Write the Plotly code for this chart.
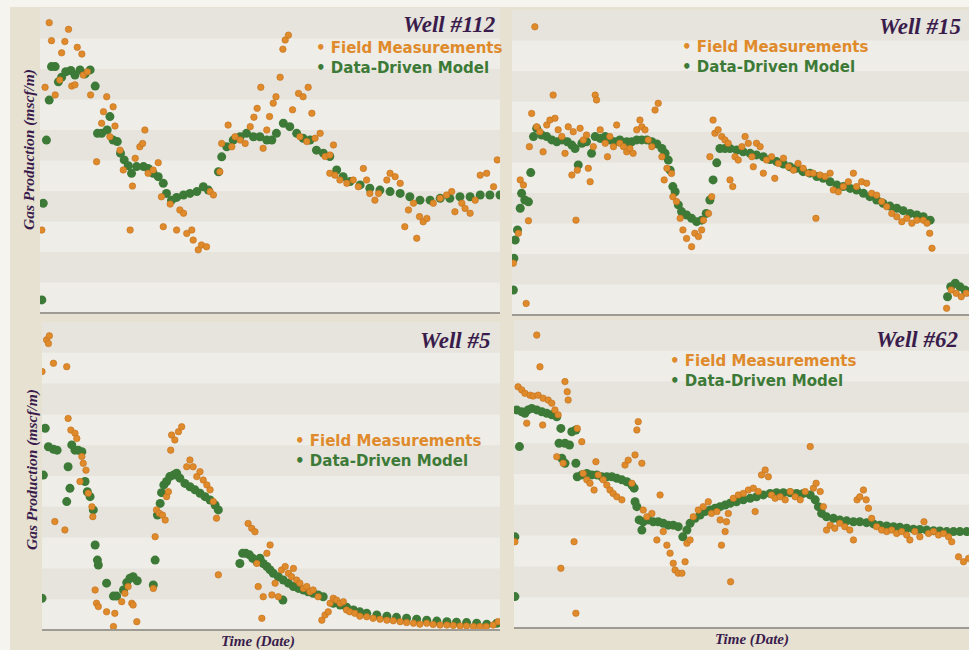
import plotly.graph_objects as go

# ---------------- data (normalised time 0-100, normalised rate 0-100) ----------------
well112_model_t = [0.4, 0.7, 1.4, 2.0, 2.5, 3.3, 4.0, 4.7, 5.6, 6.7,
                   7.6, 8.7, 9.8, 10.9, 12.0, 12.5, 13.4, 14.6, 15.2, 15.9,
                   16.8, 17.5, 18.3, 19.2, 19.9, 21.0, 22.5, 23.5, 24.6, 25.7,
                   26.8, 27.5, 28.6, 29.7, 31.2, 32.6, 34.1, 35.5, 36.6, 38.8,
                   39.5, 40.6, 42.0, 43.5, 44.9, 46.4, 47.8, 49.3, 50.4, 51.4,
                   52.9, 54.3, 55.8, 57.2, 58.7, 60.1, 61.6, 63.0, 64.5, 65.9,
                   67.4, 69.6, 71.7, 73.9, 76.1, 78.3, 80.4, 82.6, 84.8, 87.0,
                   89.1, 91.3, 93.5, 95.7, 97.8, 100.0]
well112_model_q = [4.3, 36.0, 56.7, 69.8, 80.8, 80.8, 75.8, 77.3, 79.1, 79.5,
                   78.0, 79.7, 78.4, 79.7, 74.4, 58.9, 58.9, 60.0, 64.4, 56.7,
                   56.2, 52.4, 50.2, 48.3, 45.8, 48.0, 48.0, 47.4, 45.8, 44.7,
                   42.5, 39.2, 37.0, 37.9, 38.7, 39.2, 39.8, 41.4, 40.3, 46.3,
                   51.2, 54.5, 56.7, 57.8, 58.9, 57.8, 57.8, 56.7, 56.7, 58.9,
                   62.2, 61.1, 58.9, 57.3, 56.7, 53.4, 52.4, 51.3, 46.9, 44.7,
                   43.1, 42.0, 40.9, 40.3, 39.8, 39.2, 38.1, 37.0, 37.0, 37.6,
                   37.6, 38.1, 38.1, 38.7, 38.7, 38.7]
well112_field_t = [0.4, 1.1, 2.0, 2.5, 3.3, 4.3, 4.7, 5.4, 6.2, 6.9,
                   7.6, 8.1, 9.1, 9.4, 10.3, 11.0, 12.3, 13.4, 13.8, 14.5,
                   15.2, 15.9, 16.3, 17.4, 18.1, 19.6, 20.1, 20.7, 21.7, 22.3,
                   22.8, 23.5, 24.6, 25.7, 26.4, 26.8, 28.3, 29.7, 30.4, 31.2,
                   31.9, 33.0, 33.3, 34.4, 35.1, 36.2, 37.0, 37.7, 39.1, 39.5,
                   40.9, 41.7, 42.4, 43.5, 44.6, 45.7, 46.5, 47.2, 48.0, 48.5,
                   49.3, 49.9, 50.7, 51.3, 52.2, 52.8, 53.3, 54.0, 54.9, 56.2,
                   56.5, 57.2, 58.0, 58.3, 59.1, 59.8, 60.9, 62.0, 63.0, 63.0,
                   63.8, 64.1, 65.2, 66.7, 68.1, 69.2, 70.3, 71.0, 71.7, 72.8,
                   73.6, 75.4, 76.1, 77.2, 78.3, 79.3, 80.1, 81.2, 81.9, 82.5,
                   83.3, 84.1, 85.5, 87.0, 88.4, 89.5, 90.2, 91.7, 92.4, 93.5,
                   94.6, 95.7, 97.1, 98.6, 99.4]
well112_field_q = [27.2, 74.0, 95.2, 89.3, 71.5, 76.4, 85.3, 89.0, 93.0, 74.4,
                   74.8, 87.1, 84.9, 78.0, 79.1, 71.5, 49.6, 62.2, 66.0, 70.9,
                   57.8, 67.6, 61.3, 53.4, 46.9, 27.2, 41.6, 50.7, 54.5, 55.6,
                   60.0, 45.8, 46.9, 49.3, 38.1, 28.3, 35.7, 27.2, 33.8, 32.7,
                   26.1, 27.2, 23.9, 20.7, 22.3, 21.7, 39.8, 38.7, 46.3, 55.6,
                   61.6, 54.5, 57.8, 56.7, 55.6, 61.1, 64.2, 67.1, 74.0, 54.0,
                   60.0, 64.4, 68.8, 70.9, 77.3, 86.5, 89.5, 91.1, 66.6, 72.0,
                   57.8, 70.9, 56.2, 74.0, 65.5, 57.3, 58.9, 51.3, 51.8, 45.8,
                   55.1, 45.2, 43.6, 42.5, 43.6, 41.4, 47.4, 43.6, 39.2, 37.0,
                   39.2, 43.6, 45.8, 44.7, 42.5, 28.3, 33.8, 36.0, 24.5, 31.6,
                   29.9, 31.0, 36.0, 37.6, 38.7, 39.8, 33.2, 36.0, 34.3, 32.7,
                   37.0, 45.2, 45.8, 41.4, 50.2]

well15_model_t = [0.3, 0.4, 0.7, 1.2, 1.8, 2.1, 2.8, 3.6, 4.1, 4.7,
                  5.4, 6.5, 7.6, 8.7, 9.8, 10.9, 12.1, 13.1, 13.8, 14.5,
                  15.3, 16.3, 17.4, 18.2, 19.3, 20.4, 21.4, 22.5, 23.6, 25.1,
                  26.2, 27.3, 28.4, 29.5, 30.6, 31.7, 32.8, 33.5, 34.2, 34.6,
                  35.2, 35.7, 36.4, 37.1, 38.2, 39.3, 40.4, 41.5, 42.5, 43.3,
                  44.0, 44.8, 45.5, 46.6, 47.7, 49.2, 50.6, 52.1, 53.5, 55.0,
                  56.5, 57.9, 59.4, 60.8, 62.3, 63.7, 65.2, 66.7, 68.1, 69.6,
                  71.1, 72.5, 74.0, 75.4, 76.9, 78.3, 79.8, 81.2, 82.7, 84.2,
                  85.6, 87.1, 88.6, 90.0, 91.5, 95.3, 96.0, 97.0, 98.0, 99.1,
                  100.0]
well15_model_q = [8.2, 18.6, 24.6, 27.9, 35.0, 39.9, 37.7, 37.1, 46.7, 58.5,
                  61.2, 59.0, 58.5, 57.4, 56.8, 57.4, 56.8, 55.7, 54.6, 49.2,
                  56.3, 56.8, 53.0, 58.5, 57.9, 58.5, 57.4, 56.8, 57.4, 56.8,
                  56.8, 57.4, 57.4, 57.4, 56.8, 56.1, 54.6, 53.0, 50.8, 47.5,
                  42.1, 40.4, 36.1, 33.9, 32.8, 31.7, 30.6, 31.1, 33.3, 37.7,
                  44.3, 49.9, 54.6, 54.6, 54.6, 54.1, 53.5, 53.0, 52.5, 51.9,
                  51.0, 50.3, 49.5, 48.6, 48.1, 47.0, 46.5, 45.4, 44.8, 43.7,
                  42.6, 42.1, 41.5, 41.0, 39.9, 38.8, 37.7, 36.6, 35.7, 35.0,
                  34.2, 33.3, 32.8, 32.2, 31.1, 6.0, 9.3, 10.4, 9.3, 8.2,
                  7.6]
well15_field_t = [0.3, 1.4, 1.8, 2.5, 3.1, 3.6, 3.8, 4.3, 5.0, 5.4,
                  6.1, 6.8, 7.6, 8.3, 9.0, 9.4, 10.1, 10.9, 11.6, 12.3,
                  13.1, 13.4, 14.0, 14.3, 14.9, 15.6, 16.3, 16.7, 17.1, 17.8,
                  18.2, 18.5, 19.3, 20.4, 20.9, 21.4, 22.2, 22.9, 23.6, 24.4,
                  25.1, 25.8, 26.5, 27.3, 28.0, 28.4, 29.1, 29.8, 30.6, 31.3,
                  32.0, 32.8, 33.3, 33.9, 34.9, 35.2, 36.0, 36.8, 37.4, 38.2,
                  39.3, 40.0, 40.8, 41.5, 41.9, 43.0, 43.3, 43.7, 44.0, 44.4,
                  45.1, 45.9, 46.6, 47.3, 47.7, 48.3, 48.8, 49.5, 50.3, 51.0,
                  51.7, 52.5, 52.8, 53.5, 54.3, 55.0, 55.7, 56.8, 57.5, 58.3,
                  59.4, 60.5, 61.6, 62.6, 63.7, 64.8, 65.9, 66.5, 67.4, 68.5,
                  69.6, 70.3, 71.4, 72.5, 73.6, 74.7, 75.4, 76.5, 77.6, 78.7,
                  79.8, 80.9, 82.0, 83.1, 84.2, 85.3, 86.4, 87.5, 88.6, 90.0,
                  90.8, 91.4, 91.9, 95.1, 96.1, 97.2, 98.3, 99.4]
well15_field_q = [17.0, 26.8, 44.3, 42.6, 3.8, 30.9, 55.2, 66.1, 94.5, 61.7,
                  60.1, 53.5, 62.3, 63.9, 72.1, 64.5, 60.7, 58.5, 53.0, 61.7,
                  45.9, 60.1, 31.1, 47.5, 61.2, 57.4, 59.0, 48.1, 43.7, 55.2,
                  72.1, 70.5, 60.7, 56.3, 51.9, 58.5, 55.2, 62.3, 56.3, 55.2,
                  53.5, 54.6, 53.0, 60.7, 63.9, 61.7, 60.7, 57.4, 55.2, 67.2,
                  69.4, 51.9, 44.3, 48.1, 46.4, 38.8, 37.2, 31.7, 27.9, 25.1,
                  22.4, 26.8, 25.7, 27.9, 31.1, 33.3, 51.9, 38.8, 63.9, 59.6,
                  60.7, 58.5, 57.4, 56.3, 44.3, 42.1, 51.9, 50.8, 55.2, 58.5,
                  56.3, 51.9, 48.6, 56.3, 55.2, 46.5, 50.8, 51.9, 44.8, 49.7,
                  51.4, 48.6, 47.5, 49.7, 48.1, 46.5, 46.5, 31.7, 45.9, 45.4,
                  46.5, 41.0, 40.4, 42.1, 43.7, 46.5, 42.1, 43.7, 43.2, 39.9,
                  39.3, 37.2, 35.5, 33.3, 32.2, 30.6, 31.7, 30.1, 31.1, 31.1,
                  30.1, 26.8, 21.9, 2.2, 8.2, 7.1, 6.0, 7.1]

well5_model_t = [0.0, 0.3, 0.7, 1.4, 2.5, 3.3, 5.4, 5.7, 6.1, 6.5,
                 7.2, 7.9, 8.7, 9.4, 9.9, 10.5, 11.2, 11.6, 12.1, 12.3,
                 14.1, 15.6, 16.3, 17.8, 18.5, 19.2, 19.9, 20.8, 24.3, 24.7,
                 25.2, 25.8, 26.1, 26.6, 27.2, 27.9, 28.7, 29.4, 30.1, 31.2,
                 32.3, 33.4, 34.5, 35.6, 36.7, 37.8, 38.5, 43.2, 43.8, 44.5,
                 45.3, 46.0, 46.9, 47.6, 48.3, 49.1, 49.8, 50.5, 51.6, 52.6,
                 52.7, 53.8, 54.9, 56.0, 57.1, 58.1, 59.2, 60.3, 61.4, 63.6,
                 65.1, 66.5, 68.0, 69.4, 70.9, 73.1, 75.3, 77.4, 79.6, 81.8,
                 84.0, 86.2, 88.4, 90.5, 92.7, 94.9, 97.1, 99.3]
well5_model_q = [10.3, 50.3, 65.5, 59.5, 58.7, 58.4, 41.7, 53.0, 46.0, 60.1,
                 58.4, 58.4, 57.9, 48.2, 44.9, 43.3, 39.0, 27.6, 22.7, 21.1,
                 15.2, 11.0, 11.0, 13.0, 15.4, 16.8, 17.3, 16.0, 14.6, 22.7,
                 37.3, 41.1, 44.6, 47.1, 48.2, 49.8, 50.3, 50.9, 49.3, 47.6,
                 46.5, 45.5, 44.4, 43.3, 42.2, 40.6, 39.0, 21.6, 24.9, 24.9,
                 24.4, 23.3, 22.2, 23.3, 21.6, 20.6, 19.5, 18.4, 17.3, 9.7,
                 16.2, 15.2, 14.1, 13.5, 13.0, 12.4, 11.9, 11.4, 10.8, 8.7,
                 8.1, 7.4, 6.5, 5.9, 5.4, 4.9, 4.5, 4.1, 3.8, 3.5,
                 3.2, 2.9, 2.7, 2.5, 2.4, 2.2, 1.9, 2.2]
well5_field_t = [0.0, 1.0, 1.4, 1.6, 2.5, 2.8, 5.0, 5.4, 5.7, 6.3,
                 7.2, 7.6, 8.3, 8.7, 9.0, 9.6, 10.1, 10.9, 11.1, 11.6,
                 11.9, 12.3, 14.1, 15.6, 15.9, 17.4, 18.1, 18.8, 19.6, 19.9,
                 20.7, 24.3, 24.7, 25.0, 25.6, 26.3, 26.9, 27.2, 27.6, 28.1,
                 28.3, 29.0, 29.8, 30.5, 31.6, 32.3, 33.0, 33.8, 34.5, 35.2,
                 36.0, 36.7, 37.4, 38.1, 38.5, 45.0, 45.8, 46.5, 46.9, 47.2,
                 48.0, 48.3, 49.1, 49.8, 50.2, 50.9, 51.6, 52.3, 53.1, 53.8,
                 54.5, 54.9, 55.6, 56.3, 57.1, 57.8, 58.5, 59.2, 60.3, 61.1,
                 61.8, 62.5, 62.9, 63.6, 64.3, 65.1, 65.8, 66.5, 67.2, 68.3,
                 69.4, 70.9, 72.3, 73.8, 75.3, 76.7, 78.2, 79.6, 81.1, 82.5,
                 84.0, 85.4, 86.9, 88.4, 89.8, 91.3, 92.7, 94.2, 95.6, 97.0,
                 98.5, 99.6]
well5_field_q = [83.9, 94.2, 93.0, 95.5, 86.6, 35.2, 32.5, 85.5, 68.7, 64.9,
                 63.9, 62.2, 48.2, 56.3, 54.1, 51.9, 44.4, 40.0, 36.8, 13.0,
                 8.7, 7.6, 5.9, 1.1, 5.4, 9.2, 11.9, 14.1, 8.7, 8.1,
                 2.7, 13.5, 30.3, 39.0, 37.9, 37.3, 35.7, 43.3, 44.9, 58.4,
                 63.3, 61.7, 64.4, 66.0, 53.0, 55.2, 53.0, 49.8, 51.4, 48.7,
                 47.1, 45.5, 41.7, 36.3, 17.9, 34.6, 33.0, 31.9, 21.6, 14.1,
                 3.8, 10.8, 24.9, 27.6, 11.4, 15.2, 10.8, 19.5, 20.6, 18.4,
                 17.3, 20.0, 16.2, 15.2, 13.5, 14.1, 12.4, 13.0, 10.8, 3.2,
                 4.9, 5.9, 8.7, 10.3, 9.7, 8.7, 9.2, 6.5, 5.9, 5.4,
                 4.5, 4.3, 3.8, 3.5, 3.2, 3.0, 2.7, 2.4, 2.2, 1.9,
                 2.2, 1.8, 1.6, 1.6, 1.5, 1.3, 1.3, 1.1, 1.1, 1.1,
                 1.6, 2.7]

well62_model_t = [0.2, 0.2, 0.6, 1.2, 1.7, 2.4, 3.1, 3.9, 5.0, 6.1,
                  7.2, 8.3, 9.4, 10.3, 9.9, 11.2, 12.2, 12.7, 13.6, 10.5,
                  11.2, 13.6, 13.9, 14.9, 16.0, 17.1, 18.2, 19.3, 20.4, 21.5,
                  22.6, 23.7, 24.8, 25.9, 26.4, 26.6, 27.0, 27.5, 28.1, 28.4,
                  29.5, 30.6, 31.7, 32.8, 33.9, 35.0, 36.1, 37.1, 38.0, 38.7,
                  39.8, 40.9, 42.0, 43.1, 44.2, 45.3, 46.4, 47.5, 48.9, 50.4,
                  51.9, 53.3, 54.8, 56.3, 57.7, 59.2, 60.7, 62.1, 63.6, 65.1,
                  66.2, 66.9, 67.6, 68.7, 70.2, 71.6, 73.1, 74.6, 76.0, 77.5,
                  79.0, 80.4, 81.9, 83.4, 84.8, 86.3, 87.8, 89.2, 90.7, 92.2,
                  93.6, 95.1, 96.6, 98.0, 99.5]
well62_model_q = [10.2, 29.6, 70.8, 58.9, 70.2, 69.7, 70.8, 71.3, 70.8, 70.2,
                  69.7, 69.2, 68.6, 64.8, 60.0, 60.0, 59.4, 63.7, 64.3, 55.1,
                  53.5, 53.5, 49.1, 49.7, 50.2, 49.7, 49.7, 49.1, 49.1, 49.1,
                  48.6, 48.1, 47.5, 46.4, 45.4, 41.0, 39.4, 35.1, 31.8, 34.5,
                  35.1, 34.5, 34.5, 34.0, 33.4, 33.4, 32.9, 29.6, 31.8, 34.0,
                  35.6, 36.7, 37.8, 38.3, 38.9, 39.4, 39.9, 40.5, 41.0, 41.6,
                  42.1, 42.6, 43.2, 43.7, 43.9, 43.9, 43.9, 43.7, 43.7, 43.2,
                  41.6, 39.4, 37.2, 36.1, 35.6, 35.1, 34.8, 34.5, 34.5, 34.2,
                  33.8, 33.4, 33.1, 32.9, 32.7, 32.4, 32.1, 32.0, 31.8, 31.6,
                  31.5, 31.3, 31.3, 31.3, 31.3]
well62_field_t = [0.2, 0.9, 1.7, 2.4, 2.8, 3.5, 4.2, 5.0, 5.3, 5.7,
                  6.3, 6.4, 7.5, 8.3, 9.0, 9.7, 9.4, 10.3, 10.8, 11.2,
                  11.7, 11.9, 13.2, 13.6, 13.9, 14.9, 15.2, 16.0, 16.7, 17.6,
                  18.0, 18.5, 19.6, 20.4, 21.1, 21.8, 22.6, 23.7, 24.4, 25.1,
                  25.9, 26.6, 27.3, 27.0, 28.1, 28.4, 29.2, 30.3, 31.4, 32.1,
                  32.8, 33.6, 34.3, 35.0, 35.4, 36.1, 36.9, 37.6, 38.0, 38.7,
                  39.4, 40.5, 41.6, 42.7, 43.4, 44.6, 45.3, 45.6, 46.4, 46.7,
                  47.1, 47.6, 48.2, 49.3, 50.4, 51.5, 52.6, 53.0, 53.7, 54.4,
                  55.2, 55.9, 56.6, 57.4, 58.5, 59.6, 60.7, 61.8, 62.9, 64.0,
                  65.1, 65.8, 66.4, 67.3, 68.0, 68.7, 69.5, 70.5, 71.6, 72.7,
                  73.8, 74.6, 75.4, 76.0, 76.8, 77.4, 77.9, 78.6, 79.7, 80.8,
                  81.9, 83.0, 84.1, 85.2, 86.3, 87.0, 88.1, 89.2, 90.1, 91.1,
                  92.2, 93.3, 94.4, 95.5, 96.2, 97.7, 98.8, 99.9]
well62_field_q = [28.0, 78.3, 77.3, 76.2, 66.5, 75.6, 75.3, 95.1, 75.6, 84.8,
                  65.9, 74.6, 74.0, 73.0, 70.8, 69.2, 55.6, 19.4, 53.5, 80.0,
                  76.7, 74.0, 28.0, 4.8, 64.8, 60.5, 50.2, 48.1, 47.0, 44.8,
                  54.0, 49.7, 48.1, 46.4, 44.8, 43.7, 42.6, 41.6, 52.9, 54.5,
                  47.0, 56.2, 67.0, 64.3, 53.5, 38.3, 36.1, 37.2, 28.6, 43.2,
                  31.3, 26.9, 24.3, 21.0, 18.8, 17.8, 17.8, 21.5, 27.5, 28.6,
                  36.1, 38.3, 39.4, 41.0, 37.2, 37.8, 35.1, 26.9, 31.3, 34.5,
                  37.2, 15.0, 42.1, 43.2, 43.7, 44.8, 45.4, 37.8, 44.3, 49.7,
                  51.3, 49.1, 43.2, 42.1, 42.6, 41.6, 44.3, 42.6, 41.6, 44.3,
                  58.9, 45.4, 47.0, 44.3, 39.4, 31.8, 33.4, 32.4, 34.0, 32.9,
                  31.8, 28.6, 41.6, 42.6, 44.8, 41.6, 38.9, 35.6, 32.9, 31.8,
                  31.3, 31.8, 30.7, 31.3, 30.2, 28.6, 31.3, 29.6, 34.5, 30.7,
                  31.3, 30.2, 30.7, 29.6, 28.0, 23.1, 21.5, 22.6]

well_names = ["Well #112", "Well #15", "Well #5", "Well #62"]
series_names = ["Field Measurements", "Data-Driven Model"]
y_axis_label = "Gas Production (mscf/m)"
x_axis_label = "Time (Date)"

# ---------------- styling ----------------
W, H = 969, 650
ORANGE = "#df8a2b"
ORANGE_EDGE = "#c2701c"
GREEN = "#3d7a37"
PURPLE = "#3a1c4c"
OUTER = "#e6e1d1"
PANEL = "#eeede8"
BAND = "#e6e4dd"
SERIF = "Liberation Serif, Times New Roman, serif"
SANS = "DejaVu Sans, Arial, sans-serif"


def px(x):
    return x / W


def py(y):
    return 1 - y / H


# panel boxes in pixels: (left, right, top, bottom)
panels = [
    dict(box=(40, 500, 8, 313), title_xy=(497, 24), leg_xy=(314, 48),
         ft=well112_field_t, fq=well112_field_q, mt=well112_model_t, mq=well112_model_q),
    dict(box=(512, 969, 10, 315), title_xy=(963, 26), leg_xy=(680, 47),
         ft=well15_field_t, fq=well15_field_q, mt=well15_model_t, mq=well15_model_q),
    dict(box=(42, 500, 322, 630), title_xy=(492, 340), leg_xy=(293, 441),
         ft=well5_field_t, fq=well5_field_q, mt=well5_model_t, mq=well5_model_q),
    dict(box=(514, 969, 320, 628), title_xy=(960, 339), leg_xy=(668, 361),
         ft=well62_field_t, fq=well62_field_q, mt=well62_model_t, mq=well62_model_q),
]

fig = go.Figure()
layout = dict(
    width=W, height=H, margin=dict(l=0, r=0, t=0, b=0),
    paper_bgcolor=OUTER, plot_bgcolor=PANEL, showlegend=False,
)
shapes = []
annotations = []

# white frame strips at top and left of the picture
shapes.append(dict(type="rect", xref="paper", yref="paper", x0=0, x1=1, y0=py(7), y1=1,
                   fillcolor="#f6f4ef", line_width=0, layer="below"))
shapes.append(dict(type="rect", xref="paper", yref="paper", x0=0, x1=px(10), y0=0, y1=1,
                   fillcolor="#f6f4ef", line_width=0, layer="below"))

N_BANDS = 10
for i, p in enumerate(panels):
    k = "" if i == 0 else str(i + 1)
    xa, ya = "x" + k, "y" + k
    l, r, t, b = p["box"]
    layout["xaxis" + k] = dict(domain=[px(l), px(r)], range=[0, 100], anchor=ya,
                               showgrid=False, zeroline=False, showticklabels=False,
                               ticks="", showline=False, fixedrange=True)
    layout["yaxis" + k] = dict(domain=[py(b), py(t)], range=[0, 100], anchor=xa,
                               showgrid=False, zeroline=False, showticklabels=False,
                               ticks="", showline=False, fixedrange=True)
    # subtle horizontal bands
    for j in range(N_BANDS):
        if j % 2 == 0:
            shapes.append(dict(type="rect", xref=xa + " domain", yref=ya + " domain",
                               x0=0, x1=1, y0=1 - (j + 1) / N_BANDS, y1=1 - j / N_BANDS,
                               fillcolor=BAND, line_width=0, layer="below"))
    # bottom shadow edge
    shapes.append(dict(type="line", xref=xa + " domain", yref=ya + " domain",
                       x0=0, x1=1, y0=0, y1=0, line=dict(color="#9e9b94", width=2),
                       layer="above"))

    fig.add_trace(go.Scatter(x=p["mt"], y=p["mq"], mode="markers", xaxis=xa, yaxis=ya,
                             name=series_names[1], hoverinfo="skip",
                             marker=dict(color=GREEN, size=9, line=dict(width=0))))
    fig.add_trace(go.Scatter(x=p["ft"], y=p["fq"], mode="markers", xaxis=xa, yaxis=ya,
                             name=series_names[0], hoverinfo="skip",
                             marker=dict(color=ORANGE, size=6.5,
                                         line=dict(color=ORANGE_EDGE, width=0.6))))

    tx, ty = p["title_xy"]
    annotations.append(dict(text=well_names[i], xref="paper", yref="paper",
                            x=px(tx), y=py(ty), xanchor="right", yanchor="middle",
                            showarrow=False,
                            font=dict(family=SERIF, size=23, color=PURPLE,
                                      weight="bold", style="italic")))
    lx, ly = p["leg_xy"]
    annotations.append(dict(text="\u2022 " + series_names[0], xref="paper", yref="paper",
                            x=px(lx), y=py(ly), xanchor="left", yanchor="middle",
                            showarrow=False,
                            font=dict(family=SANS, size=15, color=ORANGE, weight="bold")))
    annotations.append(dict(text="\u2022 " + series_names[1], xref="paper", yref="paper",
                            x=px(lx), y=py(ly + 20), xanchor="left", yanchor="middle",
                            showarrow=False,
                            font=dict(family=SANS, size=15, color=GREEN, weight="bold")))

# axis titles
for (x, y) in [(29, 150), (32, 470)]:
    annotations.append(dict(text=y_axis_label, xref="paper", yref="paper", x=px(x), y=py(y),
                            xanchor="center", yanchor="middle", textangle=-90, showarrow=False,
                            font=dict(family=SERIF, size=15.5, color=PURPLE,
                                      weight="bold", style="italic")))
for (x, y) in [(258, 641), (752, 639)]:
    annotations.append(dict(text=x_axis_label, xref="paper", yref="paper", x=px(x), y=py(y),
                            xanchor="center", yanchor="middle", showarrow=False,
                            font=dict(family=SERIF, size=15, color=PURPLE,
                                      weight="bold", style="italic")))

layout["shapes"] = shapes
layout["annotations"] = annotations
fig.update_layout(**layout)
fig.write_html("out.html",
               config={"displayModeBar": False, "staticPlot": True},
               post_script="document.body.style.margin='0';"
                           "document.body.style.overflow='hidden';")
